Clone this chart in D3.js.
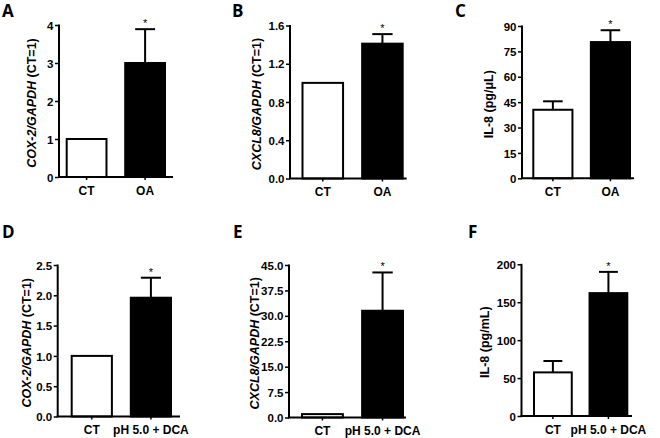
<!DOCTYPE html>
<html><head><meta charset="utf-8">
<script src="https://cdn.jsdelivr.net/npm/d3@7"></script>
<style>
html,body{margin:0;padding:0;background:#fff;}
svg{display:block;}
text{font-family:"Liberation Sans",Arial,sans-serif;font-weight:bold;fill:#000;}
.letter{font-family:"Open Sans","Liberation Sans",sans-serif;font-weight:bold;}
</style></head>
<body>
<svg id="chart" width="660" height="438"></svg>
<script>
// ---- data ----
const panelLetters = ["A","B","C","D","E","F"];
const groupsOA = ["CT","OA"];
const groupsDCA = ["CT","pH 5.0 + DCA"];
const barFills = ["#fff","#000"];
const stars = ["","*"];

const cox2OA = [1.0, 3.0];      const cox2OAErr = [0, 0.89];
const cxcl8OA = [1.0, 1.41];    const cxcl8OAErr = [0, 0.10];
const il8OA = [40.5, 80.5];     const il8OAErr = [5.0, 7.0];
const cox2DCA = [1.0, 1.96];    const cox2DCAErr = [0, 0.33];
const cxcl8DCA = [1.0, 31.5];   const cxcl8DCAErr = [0, 11.3];
const il8DCA = [57.5, 162];     const il8DCAErr = [15, 28];

const ticksA = [0,1,2,3,4];
const ticksB = [0,0.4,0.8,1.2,1.6];
const ticksC = [0,15,30,45,60,75,90];
const ticksD = [0,0.5,1.0,1.5,2.0,2.5];
const ticksE = [0,7.5,15,22.5,30,37.5,45];
const ticksF = [0,50,100,150,200];
const tickFormats = ["d",".1f","d",".1f",".1f","d"];

// y-axis labels: [italic part, upright part]
const yLabels = [
  ["COX-2/GAPDH"," (CT=1)"],
  ["CXCL8/GAPDH"," (CT=1)"],
  ["","IL-8 (pg/\u03bcL)"],
  ["COX-2/GAPDH"," (CT=1)"],
  ["CXCL8/GAPDH"," (CT=1)"],
  ["","IL-8 (pg/mL)"]
];

// ---- layout (pixels) ----
const layouts = [
  {ax:59,   end:173, b0:66.7,  b1:165,   yT:25,   yB:177,   lx:2,   ly:17,  tx:32},
  {ax:290,  end:406.7,b0:302.5,b1:402.7, yT:25.5, yB:178.5, lx:232, ly:17,  tx:256.5},
  {ax:522,  end:634, b0:533.3, b1:630,   yT:26,   yB:178.3, lx:455, ly:17,  tx:489},
  {ax:57.7, end:180, b0:71.7,  b1:171,   yT:265,  yB:416.5, lx:2,   ly:238, tx:27},
  {ax:289,  end:406, b0:302,   b1:403,   yT:265,  yB:417.5, lx:233, ly:237.5,tx:255},
  {ax:521.5,end:632, b0:534,   b1:627.3, yT:264.3,yB:416,   lx:468, ly:237.5,tx:485}
];

const panels = [
  {groups:groupsOA,  values:cox2OA,  errs:cox2OAErr,  ticks:ticksA},
  {groups:groupsOA,  values:cxcl8OA, errs:cxcl8OAErr, ticks:ticksB},
  {groups:groupsOA,  values:il8OA,   errs:il8OAErr,   ticks:ticksC},
  {groups:groupsDCA, values:cox2DCA, errs:cox2DCAErr, ticks:ticksD},
  {groups:groupsDCA, values:cxcl8DCA,errs:cxcl8DCAErr,ticks:ticksE},
  {groups:groupsDCA, values:il8DCA,  errs:il8DCAErr,  ticks:ticksF}
];

const svg = d3.select("#chart");

panels.forEach((p, i) => {
  const L = layouts[i];
  const g = svg.append("g");
  const y = d3.scaleLinear().domain([0, d3.max(p.ticks)]).range([L.yB, L.yT]);
  const x = d3.scaleBand().domain(p.groups).range([L.b0, L.b1]).paddingInner(0.32).paddingOuter(0);
  const bw = x.bandwidth();

  // panel letter
  g.append("text").attr("class","letter").attr("x",L.lx).attr("y",L.ly)
    .style("font-size","17px").text(panelLetters[i]);

  // bars
  g.selectAll("rect.bar").data(p.groups).join("rect").attr("class","bar")
    .attr("x", d => x(d)).attr("width", bw)
    .attr("y", (d,j) => y(p.values[j]))
    .attr("height", (d,j) => y(0) - y(p.values[j]))
    .attr("fill", (d,j) => barFills[j]).attr("stroke","#000").attr("stroke-width",2);

  // error bars (upper only)
  p.groups.forEach((d,j) => {
    if (!p.errs[j]) return;
    const cx = x(d) + bw/2;
    const top = y(p.values[j] + p.errs[j]);
    g.append("line").attr("x1",cx).attr("x2",cx).attr("y1",y(p.values[j])).attr("y2",top)
      .attr("stroke","#000").attr("stroke-width",2);
    g.append("line").attr("x1",cx-bw/4).attr("x2",cx+bw/4).attr("y1",top).attr("y2",top)
      .attr("stroke","#000").attr("stroke-width",2);
    if (stars[j]) {
      g.append("text").attr("x",cx).attr("y",top-2).attr("text-anchor","middle")
        .style("font-size","11px").style("font-weight","normal").text(stars[j]);
    }
  });

  // y axis
  const yAxis = d3.axisLeft(y).tickValues(p.ticks).tickSize(4).tickPadding(1.5)
    .tickFormat(d3.format(tickFormats[i]));
  const ya = g.append("g").attr("transform",`translate(${L.ax},0)`).call(yAxis);
  ya.select(".domain").attr("stroke-width",2).attr("d",`M0,${L.yT-0.5}V${L.yB}`);
  ya.selectAll(".tick line").attr("stroke-width",1.5);
  ya.selectAll(".tick text").style("font-size","11.5px").style("font-family",null).attr("dy","0.36em");

  // x axis
  const xa = g.append("g").attr("transform",`translate(0,${L.yB})`)
    .call(d3.axisBottom(x).tickSize(3).tickPadding(6));
  xa.select(".domain").attr("stroke-width",2).attr("d",`M${L.ax-1},0H${L.end}`);
  xa.selectAll(".tick line").attr("stroke-width",1.5);
  xa.selectAll(".tick text").style("font-size","12px").style("font-family",null);

  // y label
  const cy = (L.yT + L.yB)/2 + 2;
  const t = g.append("text").attr("transform",`translate(${L.tx+4},${cy}) rotate(-90)`)
    .attr("text-anchor","middle").style("font-size","12.5px");
  if (yLabels[i][0]) t.append("tspan").style("font-style","italic").text(yLabels[i][0]);
  t.append("tspan").text(yLabels[i][1]);
});
</script>
</body></html>
